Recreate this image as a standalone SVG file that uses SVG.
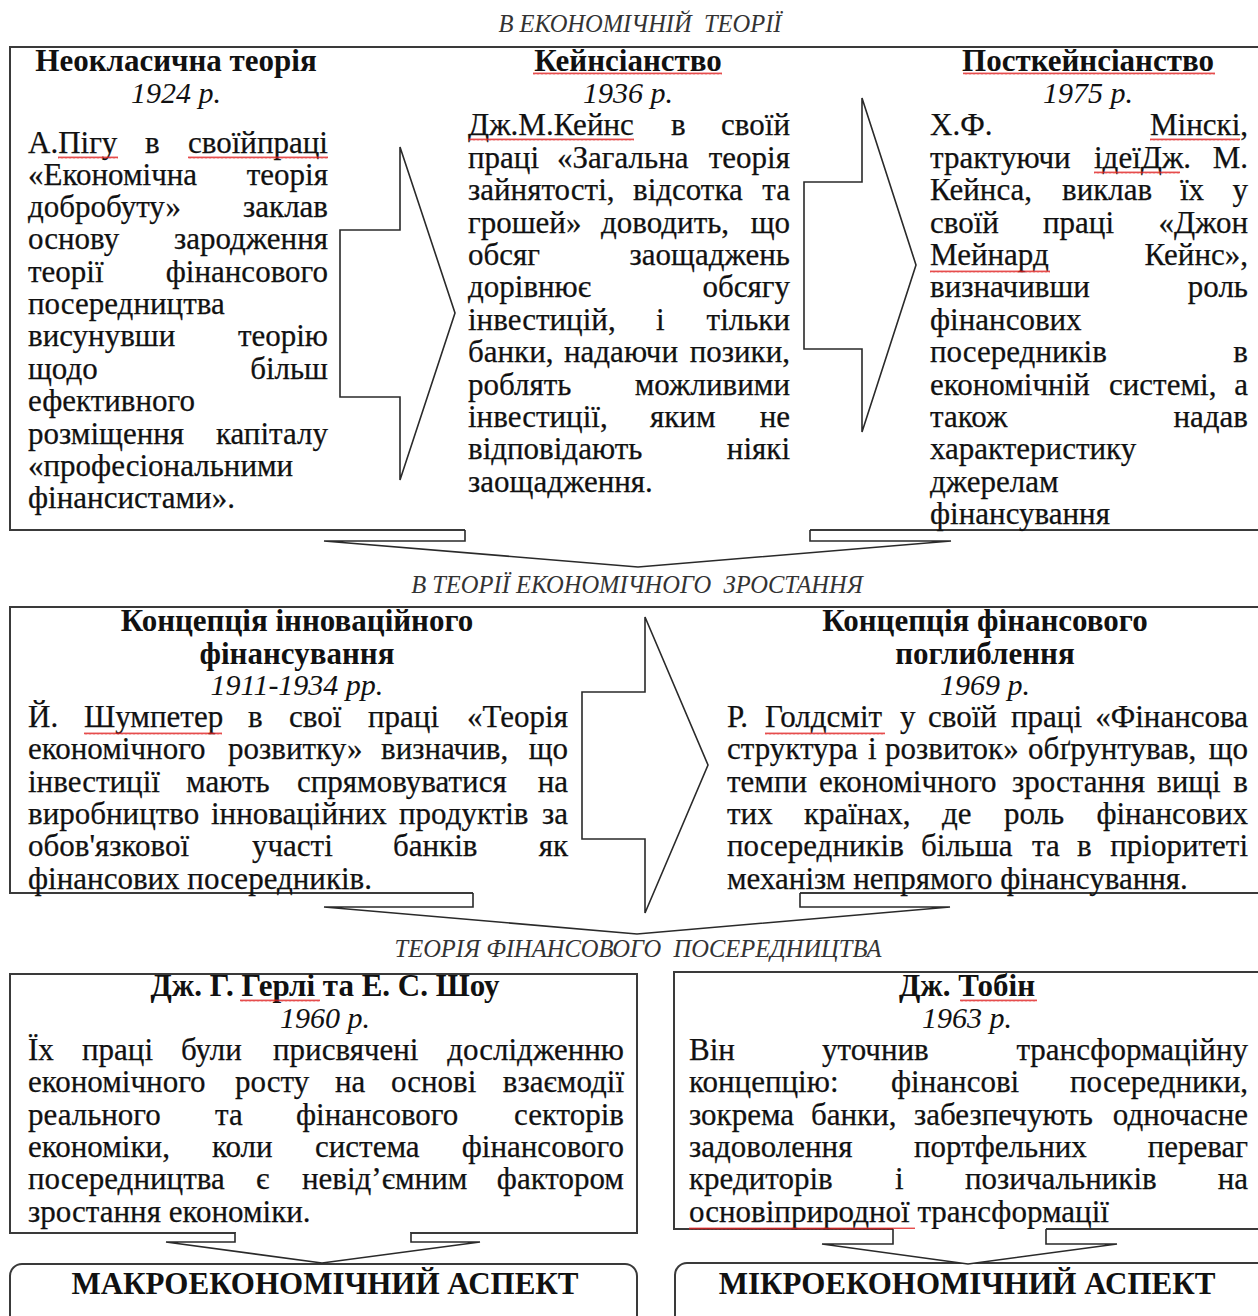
<svg xmlns="http://www.w3.org/2000/svg" width="1258" height="1316" viewBox="0 0 1258 1316">
<defs>
<style>
text{font-family:"Liberation Serif","Times New Roman",serif;fill:#111}
.t{font-size:31px;stroke:#111;stroke-width:0.25}
.e{text-anchor:end}
.m{text-anchor:middle}
.h{font-size:31px;font-weight:bold;text-anchor:middle}
.y{font-size:30px;font-style:italic;text-anchor:middle}
.s{font-size:24.5px;font-style:italic;text-anchor:middle;fill:#333}
.k{font-size:31px;font-weight:bold;text-anchor:middle}
.frame{fill:none;stroke:#3a3a3a;stroke-width:2}
.arrow{fill:#fff;stroke:#2a2a2a;stroke-width:1.6;stroke-linejoin:miter}
.sq{fill:url(#wave)}
</style>
<pattern id="wave" width="4" height="3" patternUnits="userSpaceOnUse"><path d="M0,2.5 L1,0.5 L2,2.5 L3,0.5 L4,2.5" fill="none" stroke="#e02020" stroke-width="0.8"/></pattern>
</defs>
<rect width="1258" height="1316" fill="#fff"/>

<g id="label-economic-theory"><text class="s" x="640" y="32">В ЕКОНОМІЧНІЙ&#160; ТЕОРІЇ</text></g>
<g id="frame-economic-theory"><path class="frame" d="M465,530 H10 V47 H1264 M810,530 H1264"/></g>

<g id="neoclassical">
<text class="h" x="176" y="71">Неокласична теорія</text>
<text class="y" x="176" y="103">1924 р.</text>
<text class="t" x="28" y="153">А.Пігу</text><text class="t" x="145" y="153">в</text><text class="t e" x="328" y="153">своїйпраці</text>
<text class="t" x="28" y="185">«Економічна</text><text class="t e" x="328" y="185">теорія</text>
<text class="t" x="28" y="217">добробуту»</text><text class="t e" x="328" y="217">заклав</text>
<text class="t" x="28" y="249">основу</text><text class="t e" x="328" y="249">зародження</text>
<text class="t" x="28" y="282">теорії</text><text class="t e" x="328" y="282">фінансового</text>
<text class="t" x="28" y="314">посередництва</text>
<text class="t" x="28" y="346">висунувши</text><text class="t e" x="328" y="346">теорію</text>
<text class="t" x="28" y="379">щодо</text><text class="t e" x="328" y="379">більш</text>
<text class="t" x="28" y="411">ефективного</text>
<text class="t" x="28" y="444">розміщення</text><text class="t e" x="328" y="444">капіталу</text>
<text class="t" x="28" y="476">«професіональними</text>
<text class="t" x="28" y="508">фінансистами».</text>
<rect class="sq" x="58" y="156" width="60" height="3"/><rect class="sq" x="188" y="156" width="140" height="3"/>
</g>

<g id="keynesianism">
<text class="h" x="628" y="71">Кейнсіанство</text>
<text class="y" x="628" y="103">1936 р.</text>
<text class="t" x="468" y="135">Дж.М.Кейнс</text><text class="t" x="671" y="135">в</text><text class="t e" x="790" y="135">своїй</text>
<text class="t" x="468" y="168">праці</text><text class="t" x="557" y="168">«Загальна</text><text class="t e" x="790" y="168">теорія</text>
<text class="t" x="468" y="200">зайнятості,</text><text class="t" x="633" y="200">відсотка</text><text class="t e" x="790" y="200">та</text>
<text class="t" x="468" y="233">грошей»</text><text class="t" x="601" y="233">доводить,</text><text class="t e" x="790" y="233">що</text>
<text class="t" x="468" y="265">обсяг</text><text class="t e" x="790" y="265">заощаджень</text>
<text class="t" x="468" y="297">дорівнює</text><text class="t e" x="790" y="297">обсягу</text>
<text class="t" x="468" y="330">інвестицій,</text><text class="t" x="656" y="330">і</text><text class="t e" x="790" y="330">тільки</text>
<text class="t" x="468" y="362">банки,</text><text class="t" x="564" y="362">надаючи</text><text class="t e" x="790" y="362">позики,</text>
<text class="t" x="468" y="395">роблять</text><text class="t e" x="790" y="395">можливими</text>
<text class="t" x="468" y="427">інвестиції,</text><text class="t" x="650" y="427">яким</text><text class="t e" x="790" y="427">не</text>
<text class="t" x="468" y="459">відповідають</text><text class="t e" x="790" y="459">ніякі</text>
<text class="t" x="468" y="492">заощадження.</text>
<rect class="sq" x="533" y="72" width="189" height="3"/><rect class="sq" x="468" y="138" width="166" height="3"/>
</g>

<g id="postkeynesianism">
<text class="h" x="1088" y="71">Посткейнсіанство</text>
<text class="y" x="1088" y="103">1975 р.</text>
<text class="t" x="930" y="135">Х.Ф.</text><text class="t e" x="1248" y="135">Мінскі,</text>
<text class="t" x="930" y="168">трактуючи</text><text class="t" x="1094" y="168">ідеїДж.</text><text class="t e" x="1248" y="168">М.</text>
<text class="t" x="930" y="200">Кейнса,</text><text class="t" x="1062" y="200">виклав</text><text class="t" x="1180" y="200">їх</text><text class="t e" x="1248" y="200">у</text>
<text class="t" x="930" y="233">своїй</text><text class="t" x="1043" y="233">праці</text><text class="t e" x="1248" y="233">«Джон</text>
<text class="t" x="930" y="265">Мейнард</text><text class="t e" x="1248" y="265">Кейнс»,</text>
<text class="t" x="930" y="297">визначивши</text><text class="t e" x="1248" y="297">роль</text>
<text class="t" x="930" y="330">фінансових</text>
<text class="t" x="930" y="362">посередників</text><text class="t e" x="1248" y="362">в</text>
<text class="t" x="930" y="395">економічній</text><text class="t" x="1109" y="395">системі,</text><text class="t e" x="1248" y="395">а</text>
<text class="t" x="930" y="427">також</text><text class="t e" x="1248" y="427">надав</text>
<text class="t" x="930" y="459">характеристику</text>
<text class="t" x="930" y="492">джерелам</text>
<text class="t" x="930" y="524">фінансування</text>
<rect class="sq" x="963" y="72" width="252" height="3"/><rect class="sq" x="1150" y="138" width="90" height="3"/><rect class="sq" x="1094" y="171" width="86" height="3"/><rect class="sq" x="930" y="270" width="120" height="3"/>
</g>

<g id="label-growth-theory"><text class="s" x="637" y="593">В ТЕОРІЇ ЕКОНОМІЧНОГО&#160; ЗРОСТАННЯ</text></g>
<g id="frame-growth-theory"><path class="frame" d="M473,893 H10 V607 H1264 M800,893 H1264"/></g>

<g id="innovation-financing">
<text class="h" x="297" y="631">Концепція інноваційного</text>
<text class="h" x="297" y="664">фінансування</text>
<text class="y" x="297" y="695">1911-1934 рр.</text>
<text class="t" x="28" y="727">Й.</text><text class="t" x="84" y="727">Шумпетер</text><text class="t" x="248" y="727">в</text><text class="t" x="289" y="727">свої</text><text class="t" x="368" y="727">праці</text><text class="t e" x="568" y="727">«Теорія</text>
<text class="t" x="28" y="759">економічного</text><text class="t" x="228" y="759">розвитку»</text><text class="t" x="381" y="759">визначив,</text><text class="t e" x="568" y="759">що</text>
<text class="t" x="28" y="792">інвестиції</text><text class="t" x="186" y="792">мають</text><text class="t" x="297" y="792">спрямовуватися</text><text class="t e" x="568" y="792">на</text>
<text class="t" x="28" y="824">виробництво</text><text class="t" x="211" y="824">інноваційних</text><text class="t" x="399" y="824">продуктів</text><text class="t e" x="568" y="824">за</text>
<text class="t" x="28" y="856">обов'язкової</text><text class="t" x="252" y="856">участі</text><text class="t" x="393" y="856">банків</text><text class="t e" x="568" y="856">як</text>
<text class="t" x="28" y="889">фінансових посередників.</text>
<rect class="sq" x="84" y="732" width="138" height="3"/>
</g>

<g id="financial-deepening">
<text class="h" x="985" y="631">Концепція фінансового</text>
<text class="h" x="985" y="664">поглиблення</text>
<text class="y" x="985" y="695">1969 р.</text>
<text class="t" x="727" y="727">Р.</text><text class="t" x="765" y="727">Голдсміт</text><text class="t" x="900" y="727">у</text><text class="t" x="928" y="727">своїй</text><text class="t" x="1011" y="727">праці</text><text class="t e" x="1248" y="727">«Фінансова</text>
<text class="t" x="727" y="759">структура</text><text class="t" x="868" y="759">і</text><text class="t" x="885" y="759">розвиток»</text><text class="t" x="1028" y="759">обґрунтував,</text><text class="t e" x="1248" y="759">що</text>
<text class="t" x="727" y="792">темпи</text><text class="t" x="819" y="792">економічного</text><text class="t" x="1012" y="792">зростання</text><text class="t" x="1157" y="792">вищі</text><text class="t e" x="1248" y="792">в</text>
<text class="t" x="727" y="824">тих</text><text class="t" x="804" y="824">країнах,</text><text class="t" x="942" y="824">де</text><text class="t" x="1004" y="824">роль</text><text class="t e" x="1248" y="824">фінансових</text>
<text class="t" x="727" y="856">посередників</text><text class="t" x="921" y="856">більша</text><text class="t" x="1032" y="856">та</text><text class="t" x="1077" y="856">в</text><text class="t e" x="1248" y="856">пріоритеті</text>
<text class="t" x="727" y="889">механізм непрямого фінансування.</text>
<rect class="sq" x="765" y="732" width="120" height="3"/>
</g>

<g id="label-intermediation-theory"><text class="s" x="638" y="957">ТЕОРІЯ ФІНАНСОВОГО&#160; ПОСЕРЕДНИЦТВА</text></g>

<g id="gurley-shaw">
<path class="frame" d="M236,1233 H10 V974 H637 V1233 H410"/>
<text class="h" x="325" y="996">Дж. Г. Герлі та Е. С. Шоу</text>
<text class="y" x="325" y="1028">1960 р.</text>
<text class="t" x="28" y="1060">Їх</text><text class="t" x="82" y="1060">праці</text><text class="t" x="181" y="1060">були</text><text class="t" x="273" y="1060">присвячені</text><text class="t e" x="624" y="1060">дослідженню</text>
<text class="t" x="28" y="1092">економічного</text><text class="t" x="235" y="1092">росту</text><text class="t" x="335" y="1092">на</text><text class="t" x="391" y="1092">основі</text><text class="t e" x="624" y="1092">взаємодії</text>
<text class="t" x="28" y="1125">реального</text><text class="t" x="215" y="1125">та</text><text class="t" x="296" y="1125">фінансового</text><text class="t e" x="624" y="1125">секторів</text>
<text class="t" x="28" y="1157">економіки,</text><text class="t" x="212" y="1157">коли</text><text class="t" x="315" y="1157">система</text><text class="t e" x="624" y="1157">фінансового</text>
<text class="t" x="28" y="1189">посередництва</text><text class="t" x="256" y="1189">є</text><text class="t" x="302" y="1189">невідʼємним</text><text class="t e" x="624" y="1189">фактором</text>
<text class="t" x="28" y="1222">зростання економіки.</text>
<rect class="sq" x="240" y="999" width="80" height="3"/>
</g>

<g id="tobin">
<path class="frame" d="M893,1229 H674 V972 H1264 M1046,1229 H1264"/>
<text class="h" x="967" y="996">Дж. Тобін</text>
<text class="y" x="967" y="1028">1963 р.</text>
<text class="t" x="689" y="1060">Він</text><text class="t" x="822" y="1060">уточнив</text><text class="t e" x="1248" y="1060">трансформаційну</text>
<text class="t" x="689" y="1092">концепцію:</text><text class="t" x="891" y="1092">фінансові</text><text class="t e" x="1248" y="1092">посередники,</text>
<text class="t" x="689" y="1125">зокрема</text><text class="t" x="811" y="1125">банки,</text><text class="t" x="914" y="1125">забезпечують</text><text class="t e" x="1248" y="1125">одночасне</text>
<text class="t" x="689" y="1157">задоволення</text><text class="t" x="914" y="1157">портфельних</text><text class="t e" x="1248" y="1157">переваг</text>
<text class="t" x="689" y="1189">кредиторів</text><text class="t" x="895" y="1189">і</text><text class="t" x="965" y="1189">позичальників</text><text class="t e" x="1248" y="1189">на</text>
<text class="t" x="689" y="1222">основіприродної трансформації</text>
<rect class="sq" x="960" y="999" width="77" height="3"/><rect class="sq" x="689" y="1227" width="226" height="3"/>
</g>

<g id="macro-aspect">
<rect class="frame" x="10" y="1264" width="627" height="90" rx="12"/>
<text class="k" x="325" y="1294">МАКРОЕКОНОМІЧНИЙ АСПЕКТ</text>
</g>
<g id="micro-aspect">
<rect class="frame" x="675" y="1263" width="620" height="90" rx="12"/>
<text class="k" x="967" y="1294">МІКРОЕКОНОМІЧНИЙ АСПЕКТ</text>
</g>

<g id="connectors">
<polygon class="arrow" points="340,230 400,230 400,147 455,313 400,480 400,397 340,397"/>
<polygon class="arrow" points="804,182 862,182 862,98 916,265 862,432 862,349 804,349"/>
<path class="arrow" d="M465,530 V541 H324 L638,567 L951,541 H810 V530"/>
<path class="arrow" d="M473,893 V907 H324 L637,934 L950,907 H800 V893"/>
<polygon class="arrow" points="582,692 645,692 645,617 708,765 645,913 645,839 582,839"/>
<path class="arrow" d="M235,1233 V1242 H166 L322,1263 L480,1242 H411 V1233"/>
<path class="arrow" d="M893,1229 V1244 H822 L968,1264 L1117,1244 H1046 V1229"/>
</g>
</svg>
